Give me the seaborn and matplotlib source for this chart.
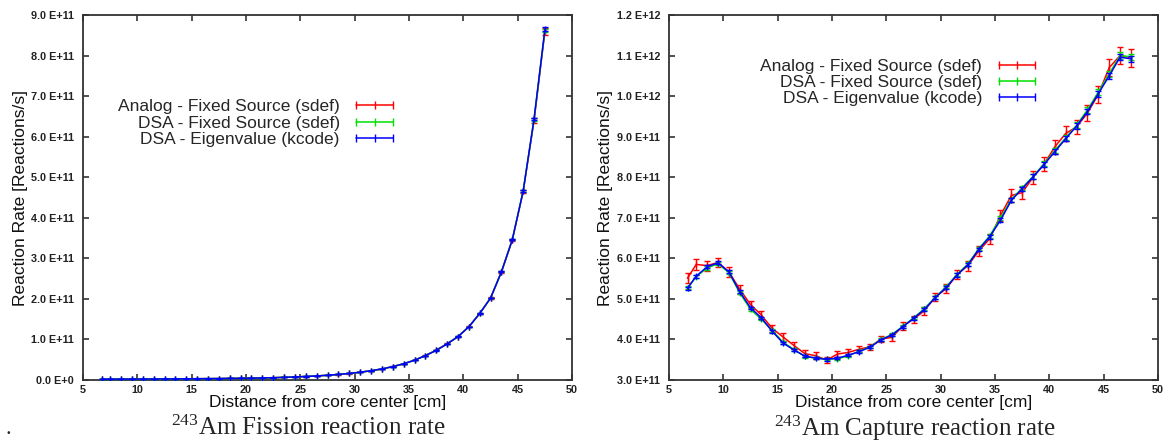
import numpy as np
import pandas as pd
import matplotlib
matplotlib.use("Agg")
import matplotlib.pyplot as plt
from matplotlib.lines import Line2D
import seaborn as sns

# ---------------- data (values in units of 1E+11 reactions/s) ----------------
distance = [6.7, 7.5, 8.5, 9.5, 10.5, 11.5, 12.5, 13.5, 14.5, 15.5, 16.5, 17.5, 18.5, 19.5,
            20.5, 21.5, 22.5, 23.5, 24.5, 25.5, 26.5, 27.5, 28.5, 29.5, 30.5, 31.5, 32.5, 33.5,
            34.5, 35.5, 36.5, 37.5, 38.5, 39.5, 40.5, 41.5, 42.5, 43.5, 44.5, 45.5, 46.5, 47.5]

series_names = ["Analog - Fixed Source (sdef)",
                "DSA - Fixed Source (sdef)",
                "DSA - Eigenvalue (kcode)"]
series_colors = ["#ff0000", "#00e000", "#0000ff"]

fission_analog = [0.020, 0.021, 0.022, 0.023, 0.024, 0.025, 0.027, 0.028, 0.030, 0.032, 0.034, 0.036,
                  0.039, 0.042, 0.046, 0.051, 0.057, 0.065, 0.075, 0.087, 0.100, 0.117, 0.137, 0.162,
                  0.192, 0.229, 0.273, 0.331, 0.401, 0.489, 0.602, 0.740, 0.892, 1.068, 1.315, 1.640,
                  2.025, 2.660, 3.455, 4.650, 6.400, 8.600]
fission_dsa_fixed = [0.020, 0.021, 0.022, 0.023, 0.024, 0.025, 0.027, 0.028, 0.030, 0.032, 0.034, 0.036,
                     0.039, 0.042, 0.046, 0.051, 0.057, 0.065, 0.075, 0.087, 0.100, 0.117, 0.137, 0.162,
                     0.192, 0.229, 0.273, 0.330, 0.400, 0.488, 0.601, 0.732, 0.891, 1.072, 1.312, 1.642,
                     2.024, 2.668, 3.465, 4.665, 6.420, 8.620]
fission_dsa_kcode = [0.020, 0.021, 0.022, 0.023, 0.024, 0.025, 0.027, 0.028, 0.030, 0.032, 0.034, 0.036,
                     0.039, 0.042, 0.046, 0.051, 0.057, 0.065, 0.075, 0.087, 0.100, 0.117, 0.137, 0.162,
                     0.192, 0.229, 0.273, 0.330, 0.400, 0.488, 0.600, 0.730, 0.890, 1.070, 1.310, 1.640,
                     2.020, 2.670, 3.460, 4.660, 6.440, 8.650]
fission_err_analog = [0.001, 0.001, 0.001, 0.001, 0.001, 0.001, 0.001, 0.001, 0.001, 0.001, 0.001, 0.001,
                      0.001, 0.001, 0.001, 0.001, 0.001, 0.001, 0.001, 0.001, 0.002, 0.002, 0.002, 0.002,
                      0.002, 0.003, 0.003, 0.004, 0.004, 0.005, 0.006, 0.007, 0.009, 0.010, 0.013, 0.016,
                      0.020, 0.026, 0.034, 0.045, 0.062, 0.085]
fission_err_dsa = [0.001, 0.001, 0.001, 0.001, 0.001, 0.001, 0.001, 0.001, 0.001, 0.001, 0.001, 0.001,
                   0.001, 0.001, 0.001, 0.001, 0.001, 0.001, 0.001, 0.001, 0.001, 0.001, 0.001, 0.001,
                   0.001, 0.001, 0.001, 0.002, 0.002, 0.002, 0.003, 0.003, 0.004, 0.005, 0.006, 0.008,
                   0.010, 0.013, 0.017, 0.023, 0.032, 0.043]

capture_analog = [5.51, 5.85, 5.82, 5.90, 5.67, 5.24, 4.86, 4.60, 4.27, 4.06, 3.85, 3.65, 3.60, 3.49,
                  3.64, 3.68, 3.76, 3.82, 4.01, 4.05, 4.33, 4.50, 4.71, 5.05, 5.25, 5.60, 5.82, 6.18,
                  6.48, 7.06, 7.55, 7.62, 8.00, 8.32, 8.75, 9.08, 9.24, 9.58, 10.04, 10.70, 11.00, 10.95]
capture_dsa_fixed = [5.28, 5.55, 5.76, 5.87, 5.65, 5.15, 4.74, 4.50, 4.22, 3.93, 3.75, 3.58, 3.54, 3.52,
                     3.52, 3.60, 3.71, 3.82, 4.00, 4.12, 4.32, 4.53, 4.76, 5.04, 5.30, 5.60, 5.86, 6.24,
                     6.55, 7.00, 7.45, 7.74, 8.02, 8.33, 8.66, 8.97, 9.28, 9.66, 10.10, 10.55, 11.00, 10.97]
capture_dsa_kcode = [5.26, 5.56, 5.79, 5.89, 5.67, 5.18, 4.78, 4.53, 4.20, 3.91, 3.74, 3.59, 3.54, 3.51,
                     3.54, 3.61, 3.70, 3.81, 3.99, 4.11, 4.31, 4.52, 4.74, 5.03, 5.28, 5.59, 5.84, 6.22,
                     6.53, 6.94, 7.43, 7.72, 8.01, 8.31, 8.63, 8.95, 9.26, 9.62, 10.06, 10.50, 10.96, 10.92]
capture_err_analog = [0.12, 0.13, 0.12, 0.12, 0.12, 0.11, 0.10, 0.10, 0.09, 0.09, 0.08, 0.08, 0.08, 0.07,
                      0.08, 0.08, 0.08, 0.08, 0.08, 0.09, 0.09, 0.09, 0.10, 0.10, 0.11, 0.11, 0.12, 0.13,
                      0.13, 0.14, 0.15, 0.15, 0.16, 0.17, 0.17, 0.18, 0.18, 0.19, 0.20, 0.21, 0.22, 0.22]
capture_err_dsa = [0.04, 0.04, 0.04, 0.04, 0.04, 0.04, 0.03, 0.03, 0.03, 0.03, 0.03, 0.03, 0.03, 0.03,
                   0.03, 0.03, 0.03, 0.03, 0.03, 0.03, 0.03, 0.03, 0.03, 0.04, 0.04, 0.04, 0.04, 0.04,
                   0.05, 0.05, 0.05, 0.05, 0.06, 0.06, 0.06, 0.06, 0.07, 0.07, 0.07, 0.08, 0.08, 0.08]

x_ticks = [5, 10, 15, 20, 25, 30, 35, 40, 45, 50]
fission_yticks = [0, 1, 2, 3, 4, 5, 6, 7, 8, 9]
fission_yticklabels = ["0.0 E+0", "1.0 E+11", "2.0 E+11", "3.0 E+11", "4.0 E+11",
                       "5.0 E+11", "6.0 E+11", "7.0 E+11", "8.0 E+11", "9.0 E+11"]
capture_yticks = [3, 4, 5, 6, 7, 8, 9, 10, 11, 12]
capture_yticklabels = ["3.0 E+11", "4.0 E+11", "5.0 E+11", "6.0 E+11", "7.0 E+11",
                       "8.0 E+11", "9.0 E+11", "1.0 E+12", "1.1 E+12", "1.2 E+12"]

x_label = "Distance from core center [cm]"
y_label = "Reaction Rate [Reactions/s]"
captions = [r"$^{243}$Am Fission reaction rate", r"$^{243}$Am Capture reaction rate"]

# ---------------- style ----------------
sns.set_style("ticks")
plt.rcParams["font.family"] = ["Liberation Sans", "DejaVu Sans"]
plt.rcParams["mathtext.fontset"] = "custom"
plt.rcParams["mathtext.rm"] = "Liberation Serif"
plt.rcParams["mathtext.it"] = "Liberation Serif:italic"

LABEL_FS = 12.5

fig = plt.figure(figsize=(11.68, 4.43), dpi=100)
ax_f = fig.add_axes([0.0711, 0.1422, 0.4187, 0.8239])
ax_c = fig.add_axes([0.5728, 0.1422, 0.4187, 0.8239])


def draw_panel(ax, vals, errs, yticks, yticklabels, legend_anchor):
    for name, color, v, e, z in zip(series_names, series_colors, vals, errs, [2, 3, 4]):
        df = pd.DataFrame({"x": distance, "y": v})
        sns.lineplot(data=df, x="x", y="y", ax=ax, color=color, linewidth=1.1,
                     marker="|", markersize=5, markeredgewidth=1.0, markeredgecolor=color,
                     legend=False, zorder=z, sort=False)
        ax.errorbar(distance, v, yerr=e, fmt="none", ecolor=color, elinewidth=1.0,
                    capsize=2.2, capthick=1.0, zorder=z)
    ax.set_xlim(5, 50)
    ax.set_ylim(yticks[0], yticks[-1])
    ax.set_xticks(x_ticks)
    ax.set_xticklabels([str(t) for t in x_ticks], fontweight="bold", fontsize=7.8)
    ax.set_yticks(yticks)
    ax.set_yticklabels(yticklabels, fontweight="bold", fontsize=7.8)
    ax.tick_params(direction="in", top=True, right=True, length=4.5, width=1.1,
                   colors="#222222")
    ax.tick_params(axis="y", pad=6.5)
    ax.tick_params(axis="x", pad=3.5)
    for sp in ax.spines.values():
        sp.set_visible(True)
        sp.set_linewidth(1.3)
        sp.set_color("#333333")
    ax.set_xlabel(x_label, fontsize=LABEL_FS, color="#111111", labelpad=0)
    ax.set_ylabel(y_label, fontsize=LABEL_FS, color="#111111", labelpad=2.5)
    handles = [Line2D([0], [0], color=c, lw=1.1, marker="|", markersize=6,
                      markeredgewidth=1.0) for c in series_colors]
    ax.legend(handles, series_names, loc="center right", bbox_to_anchor=legend_anchor,
              frameon=False, markerfirst=False, numpoints=3, handlelength=2.7,
              handletextpad=0.65, labelspacing=0.06, borderpad=0, borderaxespad=0,
              fontsize=LABEL_FS)


draw_panel(ax_f, [fission_analog, fission_dsa_fixed, fission_dsa_kcode],
           [fission_err_analog, fission_err_dsa, fission_err_dsa],
           fission_yticks, fission_yticklabels, (0.644, 0.704))
draw_panel(ax_c, [capture_analog, capture_dsa_fixed, capture_dsa_kcode],
           [capture_err_analog, capture_err_dsa, capture_err_dsa],
           capture_yticks, capture_yticklabels, (0.759, 0.8145))

fig.text(308 / 1168, 1 - 428 / 443, captions[0], ha="center", va="center",
         fontsize=18, family="Liberation Serif")
fig.text(915 / 1168, 1 - 428 / 443, captions[1], ha="center", va="center",
         fontsize=18, family="Liberation Serif")
fig.text(8 / 1168, 1 - 430 / 443, ".", ha="center", va="center",
         fontsize=16, family="Liberation Serif")

fig.savefig("out.png", dpi=100)
